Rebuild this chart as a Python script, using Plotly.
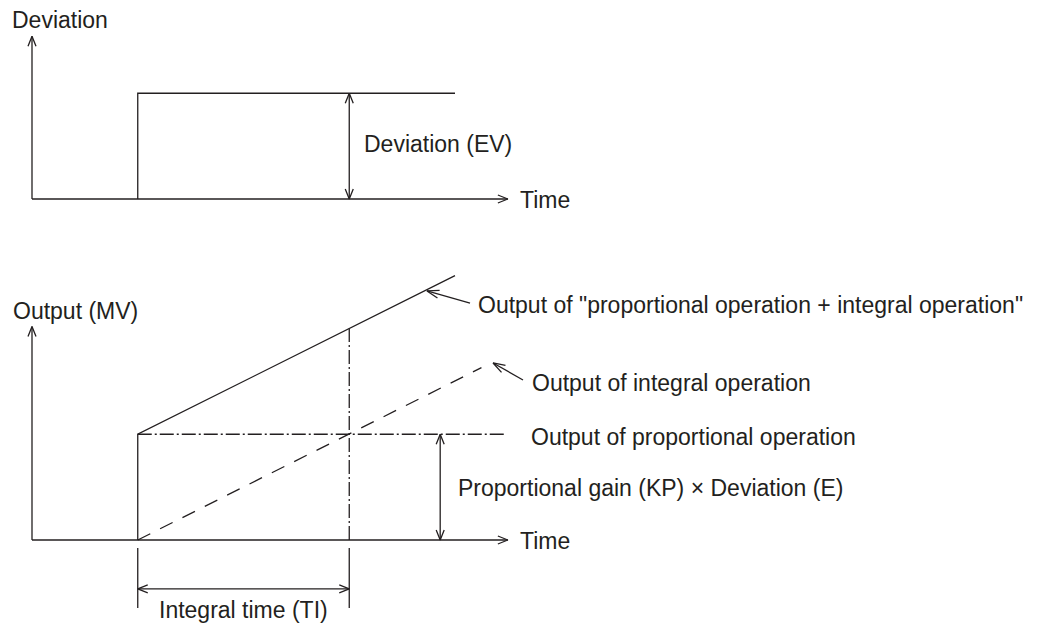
import math
import plotly.graph_objects as go

# ---- signal data (time in arbitrary units, step applied at t = 1) ----
# Deviation step (upper graph)
dev_t = [1.0, 1.0, 4.0]
dev_v = [0.0, 1.0, 1.0]

# Output of proportional + integral operation (lower graph, solid)
pi_t = [1.0, 1.0, 4.0]
pi_v = [0.0, 1.0, 2.5]

# Output of integral operation (dashed)
int_t = [1.0, 4.25]
int_v = [0.0, 1.63]

# Output of proportional operation (dash-dot)
prop_t = [1.0, 4.47]
prop_v = [1.0, 1.0]

# Integral time marker (dash-dot vertical at t = 3)
ti_t = [3.0, 3.0]
ti_v = [0.0, 2.0]

# Axis extents
time_axis_end = 4.5
dev_axis_top = 1.54
out_axis_top = 2.02

# Dimension arrows
ev_arrow_t = 3.0          # Deviation (EV)
kp_arrow_t = 3.86         # Proportional gain x Deviation
ti_arrow_v = -0.463       # Integral time (TI) arrow level
ext_v = [-0.076, -0.643]  # extension lines below the time axis

INK = "#231f20"
FONT = "Liberation Sans, Arial, Helvetica, sans-serif"
FS = 23
LW = 1.3

# Page geometry: one unit spans the same number of pixels on every axis
W, H = 1050, 626
U = 105.75
X0, TOP0, BOT0 = 32, 199, 540

fig = go.Figure()


def line(x, y, yaxis, dash="solid"):
    fig.add_trace(go.Scatter(
        x=x, y=y, mode="lines", yaxis=yaxis, hoverinfo="skip",
        line=dict(color=INK, width=LW, dash=dash),
    ))


def head(tip, tail, yaxis, length=10.0, half=4.0):
    """Open V arrowhead at `tip`, pointing away from `tail`."""
    tx, ty = tip
    fx, fy = tail
    dx, dy = tx - fx, ty - fy
    n = math.hypot(dx, dy)
    ux, uy = dx / n, dy / n
    L, h = length / U, half / U
    bx, by = tx - ux * L, ty - uy * L
    px, py = -uy, ux
    line([bx + px * h, tx, bx - px * h], [by + py * h, ty, by - py * h], yaxis)


def arrow(p0, p1, yaxis, both=False, **kw):
    line([p0[0], p1[0]], [p0[1], p1[1]], yaxis)
    head(p1, p0, yaxis, **kw)
    if both:
        head(p0, p1, yaxis, **kw)


def text(s, x, y, yref, anchor="left"):
    fig.add_annotation(
        text=s, x=x, y=y, xref="x", yref=yref, showarrow=False,
        xanchor=anchor, yanchor="middle",
        font=dict(family=FONT, size=FS, color=INK),
    )


# ---------------- upper graph: deviation ----------------
arrow((0, 0), (0, dev_axis_top), "y")
arrow((0, 0), (time_axis_end, 0), "y")
line(dev_t, dev_v, "y")
arrow((ev_arrow_t, 0), (ev_arrow_t, dev_v[-1]), "y", both=True)

text("Deviation", -0.21, 1.69, "y")
text("Time", 4.6, -0.01, "y")
text("Deviation (EV)", 3.12, 0.52, "y")

# ---------------- lower graph: output ----------------
arrow((0, 0), (0, out_axis_top), "y2")
arrow((0, 0), (time_axis_end, 0), "y2")
line(pi_t, pi_v, "y2")
line(int_t, int_v, "y2", dash="14px,11px")
line(prop_t, prop_v, "y2", dash="14px,3px,2px,3px")
line(ti_t, ti_v, "y2", dash="14px,3px,2px,3px")

# proportional step height
arrow((kp_arrow_t, 0), (kp_arrow_t, prop_v[0]), "y2", both=True)

# integral time dimension
line([pi_t[0], pi_t[0]], ext_v, "y2")
line([ti_t[0], ti_t[0]], ext_v, "y2")
arrow((pi_t[0], ti_arrow_v), (ti_t[0], ti_arrow_v), "y2", both=True)

# leaders
arrow((4.142, 2.241), (3.735, 2.355), "y2", length=12, half=4)
arrow((4.643, 1.513), (4.36, 1.674), "y2", length=12, half=4)

text("Output (MV)", -0.2, 2.17, "y2")
text("Output of \"proportional operation + integral operation\"", 4.2, 2.22, "y2")
text("Output of integral operation", 4.71, 1.485, "y2")
text("Output of proportional operation", 4.70, 0.976, "y2")
text("Proportional gain (KP) × Deviation (E)", 4.01, 0.49, "y2")
text("Time", 4.6, -0.01, "y2")
text("Integral time (TI)", 2.0, -0.662, "y2", anchor="center")

hidden = dict(visible=False, showgrid=False, zeroline=False, fixedrange=True)
fig.update_layout(
    width=W, height=H, autosize=False,
    margin=dict(l=0, r=0, t=0, b=0, pad=0),
    paper_bgcolor="white", plot_bgcolor="white",
    showlegend=False,
    xaxis=dict(range=[-X0 / U, (W - X0) / U], domain=[0, 1], **hidden),
    yaxis=dict(range=[-(H - TOP0) / U, TOP0 / U], domain=[0, 1], **hidden),
    yaxis2=dict(range=[-(H - BOT0) / U, BOT0 / U], domain=[0, 1],
                overlaying="y", **hidden),
)

fig.write_html("out.html", config=dict(displayModeBar=False))
